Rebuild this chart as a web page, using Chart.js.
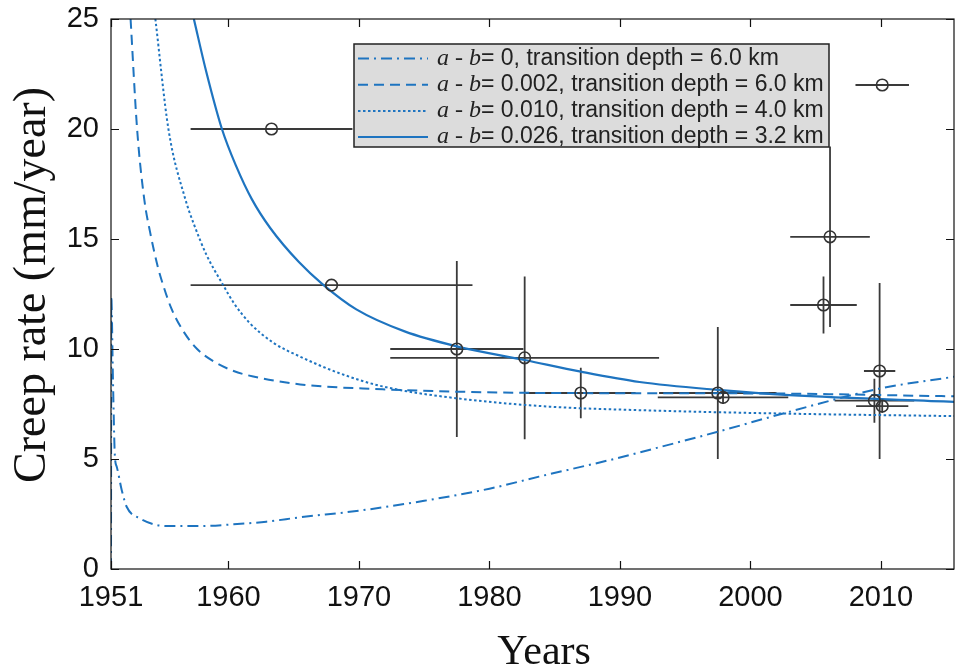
<!DOCTYPE html>
<html>
<head>
<meta charset="utf-8">
<script src="https://cdn.jsdelivr.net/npm/chart.js@4.4.1/dist/chart.umd.min.js"></script>
<style>
  html, body { margin: 0; padding: 0; background: #fff; }
</style>
</head>
<body>
<canvas id="creepChart" width="955" height="671"></canvas>
<script>
// axis ticks
var xTicks = [1951, 1960, 1970, 1980, 1990, 2000, 2010];
var yTicks = [0, 5, 10, 15, 20, 25];

// observed creep rates with error bars
var obsYear    = [1963.3, 1967.9, 1977.5, 1982.7, 1987.0, 1997.5, 1997.9, 2005.6, 2006.1, 2010.1, 2009.9, 2009.5, 2010.1];
var obsRate    = [20.0,   12.9,   10.0,   9.6,    8.0,    8.0,    7.8,    12.0,   15.1,   22.0,   9.0,    7.65,   7.4];
var obsYearErr = [6.2,    10.8,   5.1,    10.3,   4.2,    4.5,    5.0,    2.55,   3.05,   2.05,   1.2,    3.05,   2.0];
var obsRateErr = [0,      0,      4.0,    3.7,    1.15,   3.0,    0.3,    1.3,    4.1,    0,      4.0,    1.0,    0.3];

// model curves
var dashDotYear = [1951.0, 1951.02, 1951.15, 1951.3, 1951.44, 1951.82, 1952.2, 1953.2, 1955.3, 1957.8, 1960.4, 1962.9, 1965.5, 1970.0, 1975.0, 1980.0, 1983.8, 1989.2, 1991.5, 1997.5, 2003.0, 2009.9, 2015.6];
var dashDotRate = [0,      12.4,    8.6,     5.1,    4.65,    3.59,    2.83,   2.3,    1.95,   1.95,   2.03,   2.15,   2.35,   2.65,   3.1,    3.65,   4.2,    4.95,   5.3,    6.24,   7.15,   8.2,    8.74];

var dashYear = [1952.5, 1953.0, 1953.55, 1954.0, 1954.6, 1955.0, 1955.6, 1956.5, 1957.6, 1958.8, 1960.4, 1961.9, 1965.5, 1971.8, 1977.5, 1984.6, 2000.7, 2015.6];
var dashRate = [25,     20,     16.8,    15.3,   13.7,   12.9,   11.88,  10.85,  10.0,   9.46,   9.0,    8.75,   8.39,   8.17,   8.06,   8.0,    7.98,   7.85];

var dotYear = [1954.4, 1955.4, 1956.7, 1957.4, 1958.3, 1959.6, 1960.4, 1961.6, 1963.4, 1965.5, 1968.5, 1971.8, 1977.5, 1984.6, 1991.5, 2003.0, 2015.6];
var dotRate = [25,     20,     16.8,   15.6,   14.3,   12.9,   12.1,   11.2,   10.3,   9.65,   8.9,    8.3,    7.76,   7.38,   7.22,   7.06,   6.95];

var solidYear = [1957.35, 1958.3, 1959.5, 1960.6, 1961.8, 1963.2, 1965.4, 1967.2, 1969.8, 1973.5, 1977.5, 1982.7, 1987.0, 1991.5, 1997.5, 2003.0, 2015.6];
var solidRate = [25,      22.6,   20.0,   18.3,   16.8,   15.5,   13.95,  12.95,  11.8,   10.8,   10.12,  9.5,    8.97,   8.5,    8.14,   7.9,    7.6];

var legendText = [
  '= 0, transition depth = 6.0 km',
  '= 0.002, transition depth = 6.0 km',
  '= 0.010, transition depth = 4.0 km',
  '= 0.026, transition depth = 3.2 km'
];
var legendDash = [[11, 5, 2, 5], [10, 6], [2.5, 2.5], []];

var blue = 'rgb(30,116,192)';

function pts(xs, ys) {
  return xs.map(function(x, i) { return {x: x, y: ys[i]}; });
}

var extras = {
  id: 'extras',
  beforeDatasetsDraw: function(chart) {
    var ctx = chart.ctx, xs = chart.scales.x, ys = chart.scales.y;
    ctx.save();
    ctx.strokeStyle = '#3a3a3a';
    ctx.lineWidth = 1.8;
    for (var i = 0; i < obsYear.length; i++) {
      var px = xs.getPixelForValue(obsYear[i]);
      var py = ys.getPixelForValue(obsRate[i]);
      ctx.beginPath();
      if (obsYearErr[i]) {
        ctx.moveTo(xs.getPixelForValue(obsYear[i] - obsYearErr[i]), py);
        ctx.lineTo(xs.getPixelForValue(obsYear[i] + obsYearErr[i]), py);
      }
      if (obsRateErr[i]) {
        ctx.moveTo(px, ys.getPixelForValue(obsRate[i] - obsRateErr[i]));
        ctx.lineTo(px, ys.getPixelForValue(obsRate[i] + obsRateErr[i]));
      }
      ctx.stroke();
    }
    ctx.restore();
  },
  afterDraw: function(chart) {
    var ctx = chart.ctx, a = chart.chartArea, xs = chart.scales.x, ys = chart.scales.y;
    ctx.save();
    // box and inward ticks
    ctx.strokeStyle = '#111';
    ctx.lineWidth = 1.2;
    ctx.strokeRect(a.left, a.top, a.right - a.left, a.bottom - a.top);
    ctx.beginPath();
    xTicks.forEach(function(v) {
      var p = Math.round(xs.getPixelForValue(v)) + 0.5;
      ctx.moveTo(p, a.bottom); ctx.lineTo(p, a.bottom - 8);
      ctx.moveTo(p, a.top); ctx.lineTo(p, a.top + 8);
    });
    yTicks.forEach(function(v) {
      var p = Math.round(ys.getPixelForValue(v)) + 0.5;
      ctx.moveTo(a.left, p); ctx.lineTo(a.left + 8, p);
      ctx.moveTo(a.right, p); ctx.lineTo(a.right - 8, p);
    });
    ctx.stroke();

    // axis titles
    ctx.fillStyle = '#111';
    ctx.font = '42px "Liberation Serif", serif';
    ctx.textAlign = 'center';
    ctx.textBaseline = 'alphabetic';
    ctx.fillText('Years', 544, 664);
    ctx.save();
    ctx.translate(33, 285);
    ctx.rotate(-Math.PI / 2);
    ctx.font = '46px "Liberation Serif", serif';
    ctx.textBaseline = 'middle';
    ctx.fillText('Creep rate (mm/year)', 0, 0);
    ctx.restore();

    // legend
    var lx = 354, ly = 44, lw = 475, lh = 103;
    ctx.textAlign = 'left';
    ctx.fillStyle = '#dcdcdc';
    ctx.fillRect(lx, ly, lw, lh);
    ctx.strokeStyle = '#222';
    ctx.lineWidth = 1.5;
    ctx.strokeRect(lx, ly, lw, lh);
    for (var i = 0; i < legendText.length; i++) {
      var y = ly + 14.5 + i * 26.2;
      ctx.strokeStyle = blue;
      ctx.lineWidth = 2;
      ctx.setLineDash(legendDash[i]);
      ctx.beginPath();
      ctx.moveTo(lx + 4, y);
      ctx.lineTo(lx + 74, y);
      ctx.stroke();
      ctx.setLineDash([]);
      ctx.fillStyle = '#222';
      ctx.textBaseline = 'middle';
      ctx.font = 'italic 24px "Liberation Serif", serif';
      var tx = lx + 83;
      ctx.fillText('a - b', tx, y);
      tx += ctx.measureText('a - b').width;
      ctx.font = '23px "Liberation Sans", Arial, sans-serif';
      ctx.fillText(legendText[i], tx, y);
    }
    ctx.restore();
  }
};

new Chart(document.getElementById('creepChart'), {
  type: 'scatter',
  data: {
    datasets: [
      {
        label: 'observed',
        data: pts(obsYear, obsRate),
        pointStyle: 'circle',
        pointRadius: 5.8,
        pointBorderWidth: 1.6,
        pointBorderColor: '#333',
        pointBackgroundColor: 'rgba(0,0,0,0)',
        showLine: false
      },
      {
        label: 'a - b= 0.026',
        data: pts(solidYear, solidRate),
        showLine: true, pointRadius: 0, borderColor: blue, borderWidth: 2.2,
        cubicInterpolationMode: 'monotone'
      },
      {
        label: 'a - b= 0.010',
        data: pts(dotYear, dotRate),
        showLine: true, pointRadius: 0, borderColor: blue, borderWidth: 2,
        borderDash: [2.5, 2.5], cubicInterpolationMode: 'monotone'
      },
      {
        label: 'a - b= 0.002',
        data: pts(dashYear, dashRate),
        showLine: true, pointRadius: 0, borderColor: blue, borderWidth: 2,
        borderDash: [10, 6], cubicInterpolationMode: 'monotone'
      },
      {
        label: 'a - b= 0',
        data: pts(dashDotYear, dashDotRate),
        showLine: true, pointRadius: 0, borderColor: blue, borderWidth: 2,
        borderDash: [11, 5, 2, 5], cubicInterpolationMode: 'monotone'
      }
    ]
  },
  options: {
    responsive: false,
    animation: false,
    layout: {autoPadding: false, padding: {top: 19, right: 1, left: 0, bottom: 0}},
    plugins: {legend: {display: false}, tooltip: {enabled: false}},
    scales: {
      x: {
        type: 'linear', min: 1951, max: 2015.6,
        afterBuildTicks: function(s) { s.ticks = xTicks.map(function(v) { return {value: v}; }); },
        afterFit: function(s) { s.height = 102; s.paddingLeft = 0; s.paddingRight = 0; },
        grid: {display: false, drawTicks: false},
        border: {display: false},
        ticks: {
          autoSkip: false, maxRotation: 0, padding: 12, color: '#111',
          font: {family: '"Liberation Sans", Arial, sans-serif', size: 29},
          callback: function(v) { return String(v); }
        }
      },
      y: {
        min: 0, max: 25,
        afterBuildTicks: function(s) { s.ticks = yTicks.map(function(v) { return {value: v}; }); },
        afterFit: function(s) { s.width = 111; s.paddingTop = 0; s.paddingBottom = 0; },
        grid: {display: false, drawTicks: false},
        border: {display: false},
        ticks: {
          padding: 12, color: '#111',
          font: {family: '"Liberation Sans", Arial, sans-serif', size: 29}
        }
      }
    }
  },
  plugins: [extras]
});
</script>
</body>
</html>
